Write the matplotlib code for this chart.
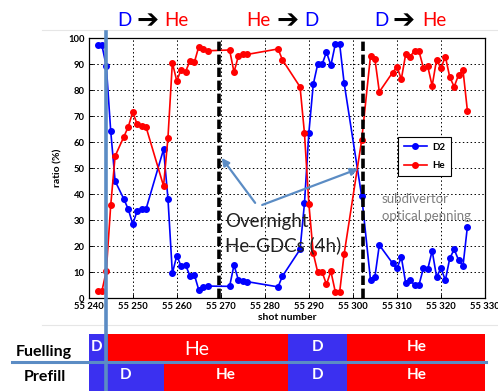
import matplotlib
matplotlib.use("Agg")
import matplotlib.pyplot as plt
from matplotlib.lines import Line2D
from matplotlib.patches import Rectangle
from matplotlib.ticker import FuncFormatter, MultipleLocator

# gas ratio per shot (subdivertor optical penning)
d2_shots = [55242, 55243, 55244, 55245, 55246, 55248, 55249, 55250, 55251, 55252, 55253,
            55257, 55258, 55259, 55260, 55261, 55262, 55263, 55264, 55265, 55266, 55267,
            55272, 55273, 55274, 55275, 55276, 55283, 55284, 55288, 55289, 55290, 55291,
            55292, 55293, 55294, 55295, 55296, 55297, 55298, 55302, 55304, 55305, 55306,
            55309, 55310, 55311, 55312, 55313, 55314, 55315, 55316, 55317, 55318, 55319,
            55320, 55321, 55322, 55323, 55324, 55325, 55326]
d2_ratio = [97.3, 97.3, 89.3, 64.3, 45.1, 38.1, 34.2, 28.5, 33.6, 34.2, 34.2,
            57.3, 38.3, 9.6, 16.4, 12.3, 12.8, 8.6, 9.0, 3.2, 4.5, 4.7,
            4.6, 12.8, 7.0, 6.5, 6.4, 4.4, 8.5, 18.8, 36.5, 63.7, 82.3,
            90.0, 90.0, 94.7, 89.6, 97.7, 97.7, 82.9, 39.2, 7.0, 8.3, 20.5,
            13.5, 11.5, 15.8, 5.8, 7.0, 5.1, 5.1, 11.5, 11.2, 18.3, 8.3,
            11.5, 7.0, 15.4, 18.8, 14.7, 12.4, 27.5]

he_shots = d2_shots
he_ratio = [2.8, 2.8, 10.5, 35.8, 54.7, 62.2, 66.0, 71.7, 66.9, 66.3, 66.0,
            43.2, 61.8, 90.6, 83.6, 88.0, 87.2, 91.3, 90.8, 96.8, 95.9, 95.2,
            95.5, 87.0, 93.2, 93.8, 93.8, 95.9, 91.7, 81.3, 63.5, 36.3, 17.3,
            10.1, 10.1, 5.4, 10.4, 2.5, 2.5, 16.9, 60.9, 93.3, 92.0, 79.4,
            86.8, 89.1, 84.3, 94.0, 93.0, 95.2, 95.1, 88.7, 89.2, 81.7, 91.8,
            88.5, 93.0, 85.0, 81.4, 85.9, 87.8, 72.2]

gdc_shots = [55269.7, 55302.3]

# gas scheme table: (start, end, gas)
fuelling = [(55240, 55244.4, "D"), (55244.4, 55285.2, "He"),
            (55285.2, 55298.6, "D"), (55298.6, 55330, "He")]
prefill = [(55240, 55257.2, "D"), (55257.2, 55285.2, "He"),
           (55285.2, 55298.6, "D"), (55298.6, 55330, "He")]
fuelling_label_x = [55241.8, 55264.5, 55291.9, 55314.4]
prefill_label_x = [55248.3, 55271.2, 55291.9, 55314.4]

BLUE = "#0000ff"
RED = "#ff0000"
TBL_BLUE = "#3b30f0"
STEEL = "#5b8cc4"
CAL = "Lato"

W, H = 498, 391
fig = plt.figure(figsize=(W / 100, H / 100), dpi=100)
fig.patch.set_facecolor("white")

ax_l, ax_r, ax_t, ax_b = 88.7, 485, 38.3, 298.3
ax = fig.add_axes([ax_l / W, 1 - ax_b / H, (ax_r - ax_l) / W, (ax_b - ax_t) / H])

ax.plot(d2_shots, d2_ratio, "-o", color=BLUE, lw=1.2, ms=4, label="D2", zorder=3)
ax.plot(he_shots, he_ratio, "-o", color=RED, lw=1.2, ms=4, label="He", zorder=3)
for xs in gdc_shots:
    ax.axvline(xs, color="black", lw=2.6, dashes=(2.6, 1.0), zorder=4)

ax.set_xlim(55240, 55330)
ax.set_ylim(0, 100)
ax.xaxis.set_major_locator(MultipleLocator(10))
ax.yaxis.set_major_locator(MultipleLocator(10))
ax.xaxis.set_major_formatter(FuncFormatter(lambda v, p: f"{int(v) // 1000} {int(v) % 1000:03d}"))
ax.grid(True, color="black", lw=0.7, linestyle=(0, (1.5, 2.5)))
ax.tick_params(direction="in", length=3, width=0.7, labelsize=6.8, pad=3)
for lab in ax.get_xticklabels() + ax.get_yticklabels():
    lab.set_fontfamily(CAL)
    lab.set_fontweight("bold")
for s in ax.spines.values():
    s.set_linewidth(0.9)
ax.set_xlabel("shot number", fontsize=7.5, fontweight="bold", family=CAL, labelpad=1)
ax.set_ylabel("ratio (%)", fontsize=7.5, fontweight="bold", family=CAL, labelpad=4)

leg = ax.legend(loc="upper left", bbox_to_anchor=(0.768, 0.64), fancybox=False,
                edgecolor="black", framealpha=1, handlelength=2.4, labelspacing=1.0,
                borderpad=0.6, handletextpad=0.5, prop={"family": CAL, "weight": "bold", "size": 7})
leg.get_frame().set_linewidth(0.8)

# annotations
ax.text(55270.9, 24.9, "Overnight\nHe-GDCs (4h)", fontsize=13.5, family=CAL, color="#222222",
        ha="left", va="center", linespacing=1.45, zorder=5)
ax.annotate("", xy=(55270.2, 54), xytext=(55277.8, 36.7),
            arrowprops=dict(arrowstyle="-|>", color=STEEL, lw=1.6, mutation_scale=11, shrinkA=0, shrinkB=0))
ax.annotate("", xy=(55301.2, 49.8), xytext=(55279.4, 35.9),
            arrowprops=dict(arrowstyle="-|>", color=STEEL, lw=1.6, mutation_scale=11, shrinkA=0, shrinkB=0))
ax.text(55306.6, 35.0, "subdivertor\noptical penning", fontsize=9.5, family=CAL, color="#7f7f7f",
        ha="left", va="center", linespacing=1.5, zorder=5)

# header: gas changes
def header(x, txt, color, size=13.5, fam=CAL, weight="normal"):
    fig.text(x / W, 1 - 21 / H, txt, color=color, fontsize=size, family=fam, weight=weight,
             ha="center", va="center")

for xd, xa, xh, first, last in [(124, 147.5, 176.5, "D", "He"), (258.5, 287.5, 311, "He", "D"),
                                 (381.5, 404, 434.5, "D", "He")]:
    header(xd, first, BLUE if first == "D" else RED)
    header(xa, "\u2794", "black", size=19, fam="DejaVu Sans", weight="bold")
    header(xh, last, BLUE if last == "D" else RED)

# gas table below
tb_top = 334.3
tax = fig.add_axes([ax_l / W, 0, (ax_r - ax_l) / W, (H - tb_top) / H])
tax.set_xlim(55240, 55330)
tax.set_ylim(0, 2)
tax.axis("off")
for row, y0 in [(fuelling, 1), (prefill, 0)]:
    for x0, x1, gas in row:
        tax.add_patch(Rectangle((x0, y0), x1 - x0, 1, color=TBL_BLUE if gas == "D" else RED, lw=0))
for xl, (x0, x1, gas) in zip(fuelling_label_x, fuelling):
    big = gas == "He" and x0 < 55250
    tax.text(xl, 1.45 if big else 1.55, gas, color="white", ha="center", va="center", family=CAL,
             fontsize=14 if big else 11, weight="normal" if big else "bold")
for xl, (x0, x1, gas) in zip(prefill_label_x, prefill):
    tax.text(xl, 0.55, gas, color="white", ha="center", va="center", family=CAL,
             fontsize=11, weight="bold")
fig.text(44 / W, 1 - 352 / H, "Fuelling", fontsize=11.5, weight="bold", family=CAL, ha="center", va="center")
fig.text(45 / W, 1 - 377 / H, "Prefill", fontsize=11.5, weight="bold", family=CAL, ha="center", va="center")

# faint borders of the pasted plot and the overlay guide lines
fig.add_artist(Line2D([42 / W, 1], [1 - 29.5 / H] * 2, color="#e6e6e6", lw=0.8))
fig.add_artist(Line2D([42 / W, 1], [1 - 325 / H] * 2, color="#e6e6e6", lw=0.8))
fig.add_artist(Line2D([12 / W, 486 / W], [1 - 361.5 / H] * 2, color=STEEL, lw=2.2, zorder=10))
fig.add_artist(Line2D([106 / W] * 2, [1 - 32 / H, 0], color=STEEL, lw=2.6, zorder=10))

fig.savefig("out.png", dpi=100)
